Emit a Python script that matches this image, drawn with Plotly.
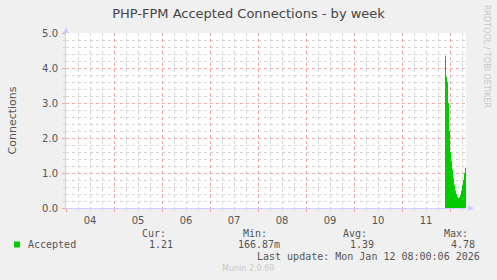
import plotly.graph_objects as go

# ---- data ----
times = [
    "2026-01-11 21:30", "2026-01-11 22:00", "2026-01-11 22:30", "2026-01-11 23:00",
    "2026-01-11 23:30", "2026-01-12 00:00", "2026-01-12 00:30", "2026-01-12 01:00",
    "2026-01-12 01:30", "2026-01-12 02:00", "2026-01-12 02:30", "2026-01-12 03:00",
    "2026-01-12 03:30", "2026-01-12 04:00", "2026-01-12 04:30", "2026-01-12 05:00",
    "2026-01-12 05:30", "2026-01-12 06:00", "2026-01-12 06:30", "2026-01-12 07:00",
    "2026-01-12 07:30", "2026-01-12 08:00",
]
accepted = [4.35, 3.76, 3.6, 3.0, 2.2, 1.6, 1.35, 1.1, 0.85, 0.65, 0.5, 0.4,
            0.32, 0.28, 0.3, 0.38, 0.5, 0.65, 0.8, 1.0, 1.15, 1.21]
x_range = ["2026-01-04 00:00", "2026-01-12 08:00"]
y_range = [0, 5]

title = "PHP-FPM Accepted Connections - by week"
y_label = "Connections"
series_name = "Accepted"
stat_heads = ["Cur:", "Min:", "Avg:", "Max:"]
stat_vals = ["1.21", "166.87m", "1.39", "4.78"]
last_update = "Last update: Mon Jan 12 08:00:06 2026"
footer = "Munin 2.0.69"
side_text = "RRDTOOL / TOBI OETIKER"

# ---- layout geometry ----
W, H = 497, 280
L, R, T, B = 66, 31, 33, 72
PW, PH = W - L - R, H - T - B

def px(x):
    return (x - L) / PW

def py(y):
    return (H - B - y) / PH

GREEN = "#00CC00"
BG = "#F0F0F0"
AXIS = "#CCCCFF"
MAJ = "rgba(240,130,130,0.7)"
MIN = "#D4D4D4"
TXT = "#555555"

fig = go.Figure()
fig.add_trace(go.Scatter(
    x=times, y=accepted, mode="lines", fill="tozeroy",
    line=dict(width=0, color=GREEN, shape="hv"), fillcolor=GREEN,
    hoverinfo="skip", showlegend=False,
))

fig.update_layout(
    width=W, height=H,
    margin=dict(l=L, r=R, t=T, b=B, pad=0, autoexpand=False),
    paper_bgcolor=BG, plot_bgcolor="#FFFFFF",
    font=dict(family="DejaVu Sans", size=10, color=TXT),
    showlegend=False,
    title=dict(text=title, x=0.5, xref="container", xanchor="center",
               y=1 - 13 / H, yanchor="middle", yref="container",
               font=dict(family="DejaVu Sans", size=13, color="#444444")),
)

fig.update_xaxes(
    type="date", range=x_range,
    dtick=86400000, tick0="2026-01-04 00:00",
    tickformat="%d", ticklabelmode="period",
    showgrid=True, gridcolor=MAJ, griddash="dot", gridwidth=1,
    minor=dict(dtick=6 * 3600000, showgrid=True, gridcolor=MIN, griddash="dot",
               ticks="outside", ticklen=2, tickcolor=MIN),
    ticks="outside", ticklen=3, tickcolor=MAJ,
    showline=True, linecolor=AXIS, linewidth=1,
    zeroline=False, automargin=False,
    tickfont=dict(family="DejaVu Sans", size=10, color=TXT),
    fixedrange=True,
)
fig.update_yaxes(
    range=y_range, dtick=1, tick0=0, tickformat=".1f",
    showgrid=True, gridcolor=MAJ, griddash="dot", gridwidth=1,
    minor=dict(dtick=0.2, showgrid=True, gridcolor=MIN, griddash="dot",
               ticks="outside", ticklen=2, tickcolor=MIN),
    ticks="outside", ticklen=3, tickcolor=MAJ,
    showline=True, linecolor=AXIS, linewidth=1,
    zeroline=False, automargin=False,
    ticklabelstandoff=2,
    tickfont=dict(family="DejaVu Sans", size=10, color=TXT),
    title=dict(text=y_label, font=dict(family="DejaVu Sans", size=11, color=TXT),
               standoff=23),
    fixedrange=True,
)

# axis arrows
fig.add_shape(type="path", xref="paper", yref="paper",
              path=f"M {px(63)} {py(33)} L {px(69)} {py(33)} L {px(66)} {py(27)} Z",
              fillcolor=AXIS, line=dict(width=0))
fig.add_shape(type="path", xref="paper", yref="paper",
              path=f"M {px(468)} {py(205)} L {px(468)} {py(211)} L {px(474)} {py(208)} Z",
              fillcolor=AXIS, line=dict(width=0))

# legend swatch
fig.add_shape(type="rect", xref="paper", yref="paper",
              x0=px(14), x1=px(20), y0=py(247.5), y1=py(241.5),
              fillcolor=GREEN, line=dict(width=0))

mono = dict(family="DejaVu Sans Mono", size=10, color=TXT)

def txt(text, x, y, anchor="left", font=mono, angle=0):
    fig.add_annotation(text=text, x=px(x), y=py(y), xref="paper", yref="paper",
                       xanchor=anchor, yanchor="middle", showarrow=False,
                       font=font, textangle=angle)

txt(series_name, 26, 244)
head_right = [168, 269, 369, 470]
val_right = [175, 282, 376, 477]
for hd, hx in zip(stat_heads, head_right):
    txt(hd, hx, 233, anchor="right")
for v, vx in zip(stat_vals, val_right):
    txt(v, vx, 244, anchor="right")
txt(last_update, 482, 256.5, anchor="right")
txt(footer, 248, 268.5, anchor="center",
    font=dict(family="DejaVu Sans", size=8, color="#C8C8C8"))
txt(side_text, 487, 56, anchor="center",
    font=dict(family="DejaVu Sans", size=8, color="#C8C8C8"), angle=90)

fig.write_html("out.html")
